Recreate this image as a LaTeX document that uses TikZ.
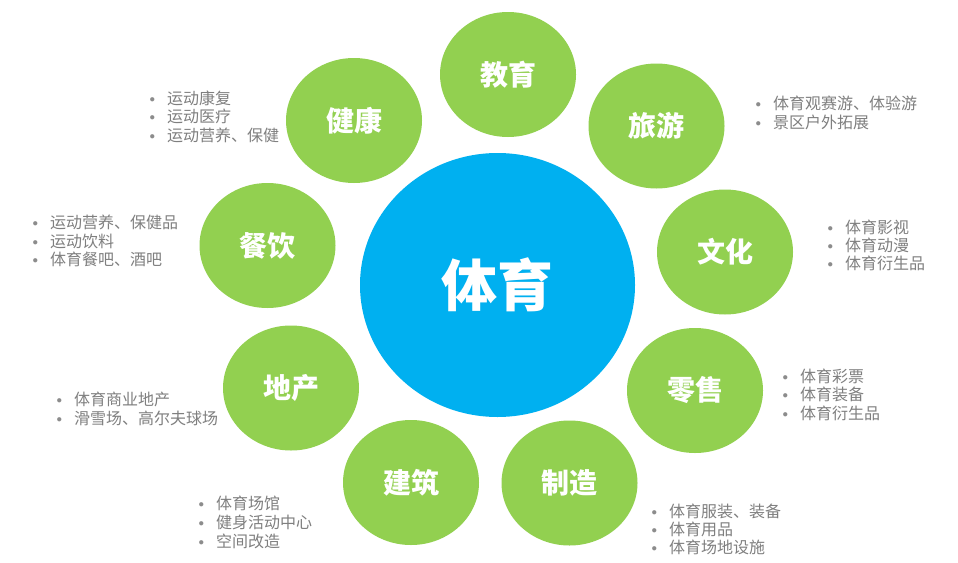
\documentclass[tikz,border=0pt]{standalone}
\usepackage{fontspec}
\setmainfont{Noto Sans CJK SC}
\usetikzlibrary{shapes.geometric}
\definecolor{grn}{HTML}{92D050}
\definecolor{blu}{HTML}{00B0F0}
\definecolor{gry}{HTML}{7F7F7F}
\definecolor{bgry}{HTML}{8C8C8C}
\newcommand{\itm}[1]{\llap{\raisebox{2pt}{\textcolor{bgry}{\fontsize{11}{11}\selectfont$\bullet$}}\hspace{12pt}}#1}
\tikzset{
  sat/.style={ellipse, fill=grn, minimum width=136pt, minimum height=125pt, inner sep=0pt, text=white, font=\fontsize{28}{30}\selectfont\bfseries},
  hub/.style={ellipse, fill=blu, minimum width=275pt, minimum height=264pt, inner sep=0pt, text=white, font=\fontsize{56}{60}\selectfont\bfseries},
  item/.style={anchor=west, inner sep=0pt, text=gry, font=\fontsize{16}{18}\selectfont},
}
\begin{document}
\begin{tikzpicture}[x=1pt,y=-1pt]
\useasboundingbox[fill=white] (0,0) rectangle (958,562);
\node[hub] (hub) at (497.5,285) {体育};
\node[sat] (jiaoyu) at (508,74.5) {教育};
\node[sat] (lvyou) at (656.5,126) {旅游};
\node[sat] (wenhua) at (725,252) {文化};
\node[sat] (lingshou) at (695,390.5) {零售};
\node[sat] (zhizao) at (569.5,483) {制造};
\node[sat] (jianzhu) at (411,482.5) {建筑};
\node[sat] (dichan) at (291,388) {地产};
\node[sat] (canyin) at (267.5,245.5) {餐饮};
\node[sat] (jiankang) at (354,120.5) {健康};
% 健康
\node[item] (jk1) at (167,98) {\itm{运动康复}};
\node[item] (jk2) at (167,116.5) {\itm{运动医疗}};
\node[item] (jk3) at (167,135) {\itm{运动营养、保健}};
% 旅游
\node[item] (ly1) at (773,103.5) {\itm{体育观赛游、体验游}};
\node[item] (ly2) at (773,122.5) {\itm{景区户外拓展}};
% 文化
\node[item] (wh1) at (845,227) {\itm{体育影视}};
\node[item] (wh2) at (845,245) {\itm{体育动漫}};
\node[item] (wh3) at (845,263.5) {\itm{体育衍生品}};
% 餐饮
\node[item] (cy1) at (50,222) {\itm{运动营养、保健品}};
\node[item] (cy2) at (50,241) {\itm{运动饮料}};
\node[item] (cy3) at (50,259) {\itm{体育餐吧、酒吧}};
% 地产
\node[item] (dc1) at (74,399) {\itm{体育商业地产}};
\node[item] (dc2) at (74,418) {\itm{滑雪场、高尔夫球场}};
% 零售
\node[item] (ls1) at (800,376) {\itm{体育彩票}};
\node[item] (ls2) at (800,394.5) {\itm{体育装备}};
\node[item] (ls3) at (800,413) {\itm{体育衍生品}};
% 建筑
\node[item] (jz1) at (216,503) {\itm{体育场馆}};
\node[item] (jz2) at (216,522) {\itm{健身活动中心}};
\node[item] (jz3) at (216,541) {\itm{空间改造}};
% 制造
\node[item] (zz1) at (669,511) {\itm{体育服装、装备}};
\node[item] (zz2) at (669,529) {\itm{体育用品}};
\node[item] (zz3) at (669,547) {\itm{体育场地设施}};
\end{tikzpicture}
\end{document}
